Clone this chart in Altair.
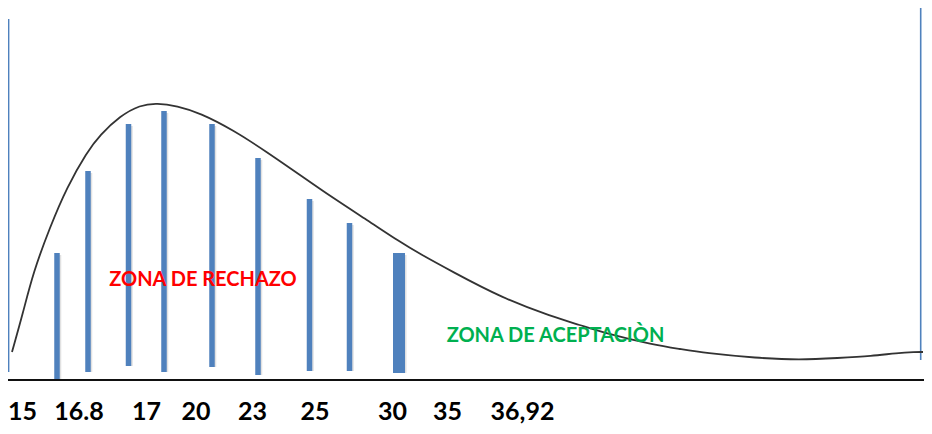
import altair as alt
import pandas as pd

# Curve (diagram units = reference pixels)
curve_x = [12, 23, 33, 50, 67, 87, 100, 120, 140, 157, 177, 200, 233, 267, 300, 333,
           367, 400, 420, 451, 502, 553, 580, 604, 654, 680, 705, 756, 800, 838, 872, 897, 915, 923]
curve_y = [352, 313, 273, 227, 187, 152, 135, 116, 105, 103, 106, 113, 130, 152, 175, 198,
           220, 242, 254, 271, 298, 317, 325, 333, 345, 349, 353, 358, 360, 358, 356, 353, 352, 352]

# Blue bars
bar_x = [57, 88, 128.5, 164, 212, 258, 309.5, 349.5, 399]
bar_top = [253, 171, 124, 111, 124, 158, 199, 223, 253]
bar_bottom = [381, 372, 366, 372, 367, 375, 371, 371, 373]
bar_w = [5.5, 5.5, 5.5, 5.5, 5.5, 5.5, 5.5, 5.5, 12]

# Frame lines
vline_x = [8.6, 920.7]
vline_top = [19, 0]
vline_bottom = [372, 360]
axis_y = [380]
axis_x0 = [8]
axis_x1 = [932]

# Tick labels
tick_labels = ["15", "16.8", "17", "20", "23", "25", "30", "35", "36,92"]
tick_x = [22.5, 79, 146.5, 196, 252.5, 315, 392.5, 447.5, 522.5]
tick_y = [411.5] * len(tick_labels)

# Zone texts
zone_text = ["ZONA DE RECHAZO", "ZONA DE ACEPTACIÒN"]
zone_x = [203, 555.5]
zone_y = [280, 335.5]
zone_color = ["#FF0000", "#00B050"]

X = alt.Scale(domain=[8, 924])
Y = alt.Scale(domain=[426, 8])

curve = pd.DataFrame({"x": curve_x, "y": curve_y, "o": list(range(len(curve_x)))})
bars = pd.DataFrame({"x": bar_x, "top": bar_top, "bottom": bar_bottom, "w": bar_w})
vlines = pd.DataFrame({"x": vline_x, "top": vline_top, "bottom": vline_bottom})
axis_df = pd.DataFrame({"x0": axis_x0, "x1": axis_x1, "y": axis_y})
ticks = pd.DataFrame({"label": tick_labels, "x": tick_x, "y": tick_y})
zones = pd.DataFrame({"t": zone_text, "x": zone_x, "y": zone_y, "c": zone_color})

shadow = alt.Chart(bars).mark_rule(color="#c8c8c8", opacity=0.55, xOffset=1.5, yOffset=2,
                                   strokeCap="butt").encode(
    x=alt.X("x:Q", scale=X, axis=None),
    y=alt.Y("top:Q", scale=Y, axis=None),
    y2="bottom:Q",
    strokeWidth=alt.StrokeWidth("w:Q", scale=None),
)

bar_layer = alt.Chart(bars).mark_rule(color="#4F81BD", strokeCap="butt").encode(
    x=alt.X("x:Q", scale=X, axis=None),
    y=alt.Y("top:Q", scale=Y, axis=None),
    y2="bottom:Q",
    strokeWidth=alt.StrokeWidth("w:Q", scale=None),
)

vline_layer = alt.Chart(vlines).mark_rule(color="#4F81BD", strokeWidth=1.6).encode(
    x=alt.X("x:Q", scale=X, axis=None),
    y=alt.Y("top:Q", scale=Y, axis=None),
    y2="bottom:Q",
)

axis_layer = alt.Chart(axis_df).mark_rule(color="#111111", strokeWidth=2).encode(
    x=alt.X("x0:Q", scale=X, axis=None),
    x2="x1:Q",
    y=alt.Y("y:Q", scale=Y, axis=None),
)

curve_layer = alt.Chart(curve).mark_line(color="#333333", strokeWidth=1.8,
                                         interpolate="basis").encode(
    x=alt.X("x:Q", scale=X, axis=None),
    y=alt.Y("y:Q", scale=Y, axis=None),
    order="o:Q",
)

tick_layer = alt.Chart(ticks).mark_text(font="Lato", fontWeight="bold", fontSize=25,
                                        color="#000000", align="center",
                                        baseline="middle").encode(
    x=alt.X("x:Q", scale=X, axis=None),
    y=alt.Y("y:Q", scale=Y, axis=None),
    text="label:N",
)

zone_layer = alt.Chart(zones).mark_text(font="Lato", fontWeight="bold", fontSize=20,
                                        align="center", baseline="middle").encode(
    x=alt.X("x:Q", scale=X, axis=None),
    y=alt.Y("y:Q", scale=Y, axis=None),
    text="t:N",
    color=alt.Color("c:N", scale=None),
)

chart = alt.layer(
    shadow, bar_layer, vline_layer, axis_layer, curve_layer, zone_layer, tick_layer
).properties(
    width=916, height=418, padding=0,
    autosize=alt.AutoSizeParams(type="none"),
    background="white",
).configure_view(stroke=None)

chart.save("out.html", embed_options={"renderer": "svg", "actions": False})
